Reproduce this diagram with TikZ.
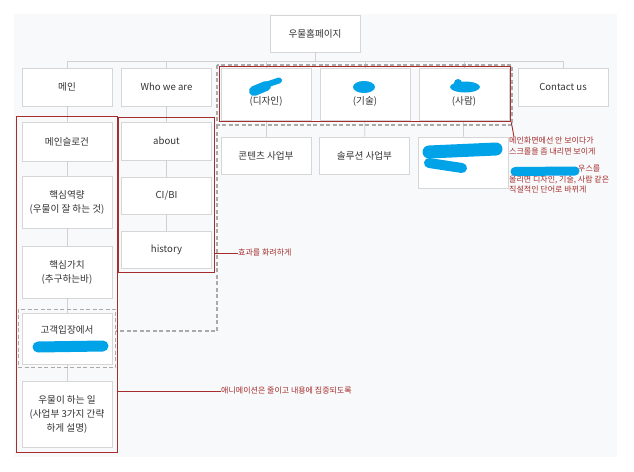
\documentclass[tikz,border=0pt]{standalone}
\usepackage{fontspec}
\setmainfont{Noto Sans CJK KR}
\usetikzlibrary{fit,shadows}
\definecolor{bgc}{RGB}{248,249,250}
\definecolor{brd}{RGB}{214,214,214}
\definecolor{connc}{RGB}{208,208,208}
\definecolor{redc}{RGB}{165,45,45}
\definecolor{dashc}{RGB}{170,170,170}
\definecolor{scrib}{RGB}{0,162,232}
\definecolor{txt}{RGB}{51,51,51}
\tikzset{
 box/.style={draw=brd, fill=white, line width=0.6pt, minimum width=90pt, minimum height=38pt, inner sep=0pt, align=center, text=txt, font=\fontsize{9.6}{14}\selectfont, drop shadow={opacity=0.12, shadow xshift=0.6pt, shadow yshift=-1pt}},
 link/.style={draw=connc, line width=0.8pt},
 redbox/.style={draw=redc, line width=1.1pt},
 grayd/.style={draw=dashc, line width=1.1pt, dash pattern=on 4pt off 2.5pt},
 note/.style={text=redc, font=\fontsize{8}{10.5}\selectfont, inner sep=0pt, align=left},
 redline/.style={draw=redc, line width=0.9pt},
 blot/.style={draw=scrib, line cap=round, line join=round},
}
\begin{document}
\begin{tikzpicture}[x=1pt,y=-1pt]
\useasboundingbox (0,0) rectangle (634,471);
\fill[bgc] (14,14) rectangle (617,457);

% level 0 and 1
\node[box, minimum height=37pt] (root) at (315,33.5) {우물홈페이지};
\node[box] (main) at (67,87) {메인};
\node[box] (who) at (166.5,87) {Who we are};
\node[box, minimum height=52pt] (d1) at (266,94) {\strut\\(디자인)};
\node[box, minimum height=52pt] (d2) at (365,94) {\strut\\(기술)};
\node[box, minimum height=52pt] (d3) at (464,94) {\strut\\(사람)};
\node[box] (contact) at (563,87) {Contact us};

% main column
\node[box, minimum height=39pt] (slogan) at (67,141.5) {메인슬로건};
\node[box, minimum height=52pt] (core) at (67,202) {핵심역량\\(우물이 잘 하는 것)};
\node[box, minimum height=52pt] (value) at (67,272) {핵심가치\\(추구하는바)};
\node[box, minimum height=51pt] (cust) at (67,338.5) {고객입장에서\\\strut};
\node[box, minimum height=66pt] (work) at (67,414) {우물이 하는 일\\(사업부 3가지 간략\\하게 설명)};

% who column
\node[box] (about) at (166.5,141) {about};
\node[box, minimum height=37pt] (cibi) at (166.5,195.5) {CI/BI};
\node[box, minimum height=37pt] (history) at (166.5,249.5) {history};

% design children
\node[box, minimum height=37pt] (c1) at (266,155.5) {콘텐츠 사업부};
\node[box, minimum height=37pt] (c2) at (364.5,155.5) {솔루션 사업부};
\node[box, minimum height=51pt] (c3) at (463,162.5) {};

% connectors
\foreach \n in {main,who,d1,d2,d3,contact}
  \draw[link] (root.south) -- ++(0,9) -| (\n.north);
\draw[link] (main) -- (slogan);
\draw[link] (slogan) -- (core);
\draw[link] (core) -- (value);
\draw[link] (value) -- (cust);
\draw[link] (cust) -- (work);
\draw[link] (who) -- (about);
\draw[link] (about) -- (cibi);
\draw[link] (cibi) -- (history);
\draw[link] (d1) -- (c1);
\draw[link] (d2) -- (c2);
\draw[link] (d3) -- (c3);

% gray dashed grouping
\node[grayd, fit=(cust), inner sep=3.5pt] (custd) {};
\draw[grayd] (217,65) rectangle (512,125);
\draw[grayd] (217,125) -- (217,331) -- (custd.east |- 0,331);

% red boxes
\node[redbox, fit=(d1)(d3), inner sep=1.5pt] (grp) {};
\node[redbox, fit=(slogan)(work), inner sep=5pt] (mainr) {};
\node[redbox, fit=(about)(history), inner xsep=3pt, inner ysep=4.5pt] (whor) {};

% notes
\node[note, anchor=north west] (n1) at (509,137) {메인화면에선 안 보이다가\\스크롤을 좀 내리면 보이게\\[7pt]\hspace*{69pt}우스를\\올리면 디자인, 기술, 사람 같은\\직설적인 단어로 바뀌게};
\draw[redline] (grp.south east) -- ([xshift=5pt]n1.north west);
\node[note, anchor=west] (n2) at (238,253) {효과를 화려하게};
\draw[redline] (n2.west) -- (n2.west -| whor.east);
\node[note, anchor=west] (n3) at (221,391) {애니메이션은 줄이고 내용에 집중되도록};
\draw[redline] (n3.west) -- (n3.west -| mainr.east);

% blue scribbles
\draw[blot, line width=10pt] (254,91) -- (266,86);
\draw[blot, line width=6pt] (264,85.5) -- (279,80.5);
\fill[scrib] (364,87) ellipse [x radius=11, y radius=6];
\fill[scrib] (465,87) ellipse [x radius=15, y radius=5.5];
\fill[scrib] (458,83) circle [radius=4];
\draw[blot, line width=13pt] (429,152) -- (496,149);
\draw[blot, line width=10pt] (429,163) -- (462,168);
\draw[blot, line width=11pt] (38,347) -- (103,346);
\draw[blot, line width=9pt] (515,171.5) -- (575,171);
\end{tikzpicture}
\end{document}
